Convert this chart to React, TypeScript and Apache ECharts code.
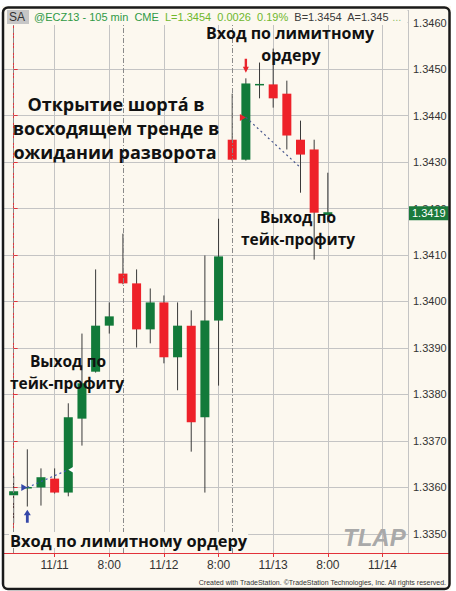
import React, { useEffect, useRef } from 'react';
import * as echarts from 'echarts';

// ---- data (105-min bars, EUR futures @ECZ13) ----
const barIndex = [0, 1, 2, 3, 4, 5, 6, 7, 8, 9, 10, 11, 12, 13, 14, 15, 16, 17, 18, 19, 20, 21, 22, 23];
const opens = [1.33583, 1.336, 1.336, 1.33619, 1.33589, 1.33748, 1.33849, 1.33948, 1.3406, 1.34039, 1.3394, 1.33998, 1.3388, 1.33948, 1.33751, 1.33959, 1.34348, 1.34305, 1.34467, 1.34467, 1.34447, 1.34348, 1.34327, 1.34186];
const closes = [1.33592, 1.33601, 1.33622, 1.33589, 1.33751, 1.33824, 1.33948, 1.33968, 1.34039, 1.3394, 1.33998, 1.3388, 1.33948, 1.3374, 1.33959, 1.34097, 1.34305, 1.34469, 1.34468, 1.34437, 1.34357, 1.34316, 1.34191, 1.34192];
const lows = [1.33523, 1.33559, 1.33561, 1.33587, 1.33581, 1.3369, 1.33847, 1.33931, 1.34037, 1.33901, 1.3391, 1.33867, 1.33809, 1.33677, 1.33589, 1.33819, 1.34303, 1.34303, 1.34437, 1.34417, 1.34327, 1.34234, 1.3409, 1.3417];
const highs = [1.33624, 1.33682, 1.33641, 1.33641, 1.33781, 1.33931, 1.34069, 1.33998, 1.34146, 1.34069, 1.34028, 1.34013, 1.33998, 1.33981, 1.34099, 1.34178, 1.34447, 1.3448, 1.34514, 1.34544, 1.34475, 1.34389, 1.34348, 1.34277];

const tickIndex = [3, 7, 11, 15, 19, 23, 27];
const tickLabels = ['11/11', '8:00', '11/12', '8:00', '11/13', '8:00', '11/14'];
const sessionStarts = [0, 8, 16];
const lastPrice = 1.3419;

const longEntry = [1, 1.336];
const longExit = [4, 1.33638];
const shortEntry = [17, 1.34396];
const shortExit = [21, 1.34288];
const buyArrow = [1, 1.33538];
const sellArrow = [17, 1.34507];

const X_MIN = -1;
const X_MAX = 28.87;

const BG = '#fcf8ef';
const GREEN = '#127a3a';
const RED = '#ee2129';
const AXIS_RED = '#e2323a';
const GRID = '#c4c4c4';

const labelMap: Record<number, string> = {};
tickIndex.forEach((t, k) => (labelMap[t] = tickLabels[k]));

export default function App() {
  const ref = useRef<HTMLDivElement>(null);
  useEffect(() => {
    if (!ref.current) return;
    const chart = echarts.init(ref.current, undefined, { renderer: 'svg' });
    const data = barIndex.map((i, k) => [i, opens[k], closes[k], lows[k], highs[k]]);

    const txt = (text: string, x: number, y: number, font: string, fill: string, align = 'left', extra: any = {}) => ({
      type: 'text',
      x,
      y,
      z: 60,
      style: { text, font, fill, align, textAlign: align, verticalAlign: 'middle', textVerticalAlign: 'middle', ...extra },
    });
    const bold = (s: number) => `bold ${s}px "Open Sans"`;

    chart.setOption({
      animation: false,
      backgroundColor: BG,
      grid: { left: -2.75, right: 48, top: 10, bottom: 38 },
      xAxis: {
        type: 'value',
        min: X_MIN,
        max: X_MAX,
        interval: 4,
        axisLine: { lineStyle: { color: AXIS_RED, width: 1 } },
        axisTick: { show: true, length: 4, lineStyle: { color: AXIS_RED } },
        axisLabel: {
          showMinLabel: false,
          showMaxLabel: false,
          margin: 6,
          color: '#333',
          fontSize: 12,
          fontFamily: 'Liberation Sans',
          formatter: (v: number) => labelMap[Math.round(v)] ?? '',
        },
        splitLine: { show: true, lineStyle: { color: GRID, width: 1 } },
      },
      yAxis: {
        type: 'value',
        position: 'right',
        min: 1.33459,
        max: 1.34627,
        splitNumber: 11,
        minInterval: 0.001,
        maxInterval: 0.001,
        axisLine: { show: true, lineStyle: { color: AXIS_RED, width: 1 } },
        axisTick: { show: true, length: 4, lineStyle: { color: AXIS_RED } },
        axisLabel: {
          showMinLabel: false,
          showMaxLabel: false,
          margin: 5,
          color: '#333',
          fontSize: 11,
          fontFamily: 'Liberation Sans',
          formatter: (v: number) => v.toFixed(4),
        },
        splitLine: { show: true, lineStyle: { color: GRID, width: 1 } },
      },
      series: [
        {
          type: 'custom',
          data,
          encode: { x: 0, y: [1, 2, 3, 4] },
          renderItem: (params: any, api: any) => {
            const x = api.value(0);
            const o = api.value(1);
            const c = api.value(2);
            const l = api.value(3);
            const h = api.value(4);
            const pO = api.coord([x, o]);
            const pC = api.coord([x, c]);
            const pL = api.coord([x, l]);
            const pH = api.coord([x, h]);
            const up = c >= o;
            const top = Math.min(pO[1], pC[1]);
            const bh = Math.max(Math.abs(pO[1] - pC[1]), 1.5);
            return {
              type: 'group',
              children: [
                { type: 'line', shape: { x1: pH[0], y1: pH[1], x2: pL[0], y2: pL[1] }, style: { stroke: '#3a3a3a', lineWidth: 1 } },
                { type: 'rect', shape: { x: pO[0] - 4.5, y: top, width: 9, height: bh }, style: { fill: up ? GREEN : RED } },
              ],
            };
          },
          markLine: {
            silent: true,
            symbol: 'none',
            label: { show: false },
            data: [
              ...sessionStarts.map((s) => ({ xAxis: s, lineStyle: { color: '#8a8a8a', width: 1, type: [5, 2, 1, 2] } })),
              [
                { coord: longEntry, lineStyle: { color: '#3d4fb0', width: 1.2, type: [2, 3] } },
                { coord: longExit },
              ],
              [
                { coord: shortEntry, lineStyle: { color: '#46558c', width: 1.2, type: [2, 3] } },
                { coord: shortExit },
              ],
              [
                {
                  coord: [X_MIN, lastPrice],
                  lineStyle: { color: 'rgba(0,0,0,0)', width: 0 },
                  label: {
                    show: true,
                    position: 'end',
                    distance: 1,
                    formatter: lastPrice.toFixed(4),
                    color: '#fff',
                    backgroundColor: '#1b7a3c',
                    padding: [2, 3, 1, 3],
                    fontSize: 11,
                    fontFamily: 'Liberation Sans',
                  },
                },
                { coord: [X_MAX, lastPrice] },
              ],
            ],
          },
          markPoint: {
            silent: true,
            label: { show: false },
            data: [
              { coord: buyArrow, symbol: 'path://M5,0 L10,6 L7,6 L7,14 L3,14 L3,6 L0,6 Z', symbolSize: [7, 13], itemStyle: { color: '#3547a8' } },
              { coord: sellArrow, symbol: 'path://M0,8 L3,8 L3,0 L7,0 L7,8 L10,8 L5,14 Z', symbolSize: [6, 14], itemStyle: { color: '#e8252d' } },
              { coord: longEntry, symbol: 'triangle', symbolRotate: -90, symbolSize: [7, 6], symbolOffset: [-3, 0], itemStyle: { color: '#3547a8' } },
              { coord: shortEntry, symbol: 'triangle', symbolRotate: -90, symbolSize: [7, 6], symbolOffset: [-3, 0], itemStyle: { color: '#e8252d' } },
              { coord: longExit, symbol: 'triangle', symbolRotate: 90, symbolSize: [7, 6], symbolOffset: [3, 0], itemStyle: { color: '#ffffff' } },
            ],
          },
        },
      ],
      graphic: [
        // header strip
        { type: 'rect', z: 50, shape: { x: 4, y: 8, width: 403.5, height: 17 }, style: { fill: BG } },
        { type: 'rect', z: 55, shape: { x: 7, y: 10, width: 22, height: 14 }, style: { fill: '#c6c6c6' } },
        txt('SA', 9, 17, '12px "Liberation Sans"', '#333'),
        {
          type: 'text',
          x: 34,
          y: 17,
          z: 60,
          style: {
            text: '{g|@ECZ13 - 105 min  CME}  {l|L=1.3454  0.0026  0.19%}  {d|B=1.3454  A=1.345} {e|...}',
            font: '11px "Liberation Sans"',
            fontSize: 11,
            fontFamily: 'Liberation Sans',
            verticalAlign: 'middle',
            textVerticalAlign: 'middle',
            rich: {
              g: { fill: '#2f9a45', fontSize: 11, fontFamily: 'Liberation Sans' },
              l: { fill: '#6fb72c', fontSize: 11, fontFamily: 'Liberation Sans' },
              d: { fill: '#3a3a3a', fontSize: 11, fontFamily: 'Liberation Sans' },
              e: { fill: '#8fbf6a', fontSize: 11, fontFamily: 'Liberation Sans' },
            },
          },
        },
        // annotations
        txt('Вход по лимитному', 290, 33, bold(16), '#111', 'center'),
        txt('ордеру', 291, 55, bold(16), '#111', 'center'),
        txt('Открытие шорта́ в', 116, 104, bold(18), '#111', 'center'),
        txt('восходящем тренде в', 116, 128, bold(18), '#111', 'center'),
        txt('ожидании разворота', 115, 152, bold(18), '#111', 'center'),
        txt('Выход по', 68, 361, bold(15.5), '#111', 'center'),
        txt('тейк-профиту', 67, 383, bold(15.5), '#111', 'center'),
        txt('Выход по', 298, 217, bold(15.5), '#111', 'center'),
        txt('тейк-профиту', 298, 239, bold(15.5), '#111', 'center'),
        txt('Вход по лимитному ордеру', 9, 540, bold(16.4), '#111', 'left', { backgroundColor: BG, padding: [0, 1] }),
        txt('TLAP', 343, 537, 'italic bold 24px "Liberation Sans"', '#a9a9a9'),
        txt('Created with TradeStation. ©TradeStation Technologies, Inc. All rights reserved.', 446, 582, '7px "Liberation Sans"', '#333', 'right'),
        // x axis line extension
        { type: 'line', z: 40, shape: { x1: 408, y1: 553.5, x2: 449, y2: 553.5 }, style: { stroke: AXIS_RED, lineWidth: 1 } },
        // outer frame
        { type: 'rect', z: 70, shape: { x: 0, y: 0, width: 456, height: 6 }, style: { fill: '#fff' } },
        { type: 'rect', z: 70, shape: { x: 0, y: 0, width: 2, height: 591 }, style: { fill: '#fff' } },
        { type: 'rect', z: 70, shape: { x: 451, y: 0, width: 5, height: 591 }, style: { fill: '#fff' } },
        { type: 'rect', z: 70, shape: { x: 0, y: 590, width: 456, height: 1 }, style: { fill: '#fff' } },
        { type: 'rect', z: 71, shape: { x: 3, y: 7.5, width: 446.5, height: 581.5, r: 5 }, style: { fill: 'none', stroke: '#1a1a1a', lineWidth: 2.5 } },
      ],
    });
    return () => chart.dispose();
  }, []);
  return <div ref={ref} style={{ position: 'fixed', left: 0, top: 0, width: 456, height: 591 }} />;
}
